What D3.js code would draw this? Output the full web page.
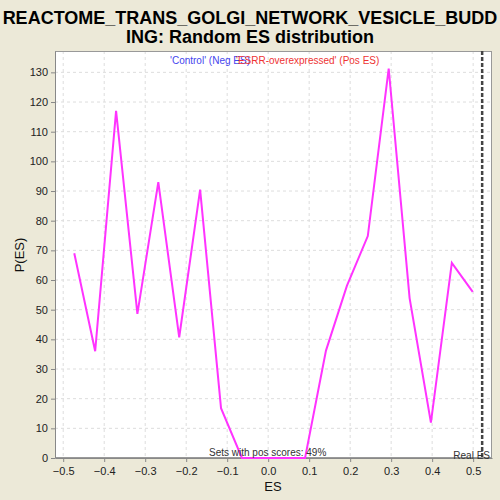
<!DOCTYPE html>
<html><head><meta charset="utf-8">
<script src="https://cdn.jsdelivr.net/npm/d3@7"></script>
<style>body{margin:0;background:#ECE9D8;} svg{display:block;}</style>
</head><body>
<script>
const titleLines = ["REACTOME_TRANS_GOLGI_NETWORK_VESICLE_BUDD", "ING: Random ES distribution"];
const esValues = [-0.473, -0.422, -0.371, -0.319, -0.268, -0.217, -0.166, -0.115, -0.064, -0.013, 0.038, 0.090, 0.141, 0.192, 0.243, 0.294, 0.345, 0.397, 0.448, 0.499];
const pValues = [69, 36, 117, 48.6, 93, 40.7, 90.5, 16.8, 0, 0, 0, 0, 36.2, 58, 74.8, 131.3, 53.9, 11.9, 65.8, 56];
const xTicks = [-0.5, -0.4, -0.3, -0.2, -0.1, 0.0, 0.1, 0.2, 0.3, 0.4, 0.5];
const yTicks = [0, 10, 20, 30, 40, 50, 60, 70, 80, 90, 100, 110, 120, 130];
const realES = 0.522;
const legendNeg = "'Control' (Neg ES)";
const legendPos = "'ESRR-overexpressed' (Pos ES)";
const posText = "Sets with pos scores: 49%";

const W = 500, H = 500;
const m = {left: 55, right: 492, top: 51, bottom: 458};
const svg = d3.select("body").append("svg").attr("width", W).attr("height", H)
  .style("font-family", "'Liberation Sans', Arial, sans-serif");
svg.append("rect").attr("width", W).attr("height", H).attr("fill", "#ECE9D8");

const x = d3.scaleLinear().domain([-0.520, 0.546]).range([m.left, m.right]);
const y = d3.scaleLinear().domain([0, 137.2]).range([m.bottom, m.top]);

// title
svg.append("g").selectAll("text").data(titleLines).join("text")
  .attr("x", 250).attr("y", (d, i) => 24 + i * 18.5)
  .attr("text-anchor", "middle").attr("font-weight", "bold").attr("font-size", 18)
  .attr("fill", "#000").text(d => d);

// plot background
svg.append("rect").attr("x", m.left).attr("y", m.top)
  .attr("width", m.right - m.left).attr("height", m.bottom - m.top).attr("fill", "#fff");

// grid
const grid = svg.append("g").attr("stroke", "#ddd").attr("stroke-dasharray", "3,3").attr("stroke-width", 1);
grid.selectAll("line.v").data(xTicks).join("line").attr("class", "v")
  .attr("x1", d => x(d)).attr("x2", d => x(d)).attr("y1", m.top).attr("y2", m.bottom);
grid.selectAll("line.h").data(yTicks).join("line").attr("class", "h")
  .attr("y1", d => y(d)).attr("y2", d => y(d)).attr("x1", m.left).attr("x2", m.right);

// border
svg.append("rect").attr("x", m.left + 0.5).attr("y", m.top + 0.5)
  .attr("width", m.right - m.left - 1).attr("height", m.bottom - m.top - 1)
  .attr("fill", "none").attr("stroke", "#999");

// axes
const xAxis = svg.append("g").attr("transform", `translate(0,${m.bottom})`)
  .call(d3.axisBottom(x).tickValues(xTicks).tickFormat(d3.format(".1f")).tickSize(4).tickSizeOuter(0));
const yAxis = svg.append("g").attr("transform", `translate(${m.left},0)`)
  .call(d3.axisLeft(y).tickValues(yTicks).tickFormat(d3.format("d")).tickSize(4).tickSizeOuter(0));
[xAxis, yAxis].forEach(a => {
  a.select(".domain").attr("stroke", "#888");
  a.selectAll(".tick line").attr("stroke", "#888");
  a.selectAll(".tick text").attr("font-size", 11).attr("fill", "#222")
    .style("font-family", "'Liberation Sans', Arial, sans-serif");
});
xAxis.selectAll(".tick text").attr("dy", "0.9em");

svg.append("text").attr("x", 273).attr("y", 491).attr("text-anchor", "middle")
  .attr("font-size", 13).attr("fill", "#111").text("ES");
svg.append("text").attr("transform", "translate(24,255) rotate(-90)").attr("text-anchor", "middle")
  .attr("font-size", 13).attr("fill", "#111").text("P(ES)");

// real ES line
svg.append("line").attr("x1", x(realES)).attr("x2", x(realES)).attr("y1", m.top).attr("y2", m.bottom)
  .attr("stroke", "#444").attr("stroke-width", 2.5).attr("stroke-dasharray", "4,2");

// data line
const data = esValues.map((d, i) => [d, pValues[i]]);
svg.append("path").datum(data)
  .attr("d", d3.line().x(d => x(d[0])).y(d => y(d[1])))
  .attr("fill", "none").attr("stroke", "#FF33FF").attr("stroke-width", 2);

// legend
svg.append("text").attr("x", 170).attr("y", 64).attr("font-size", 10).attr("fill", "#4444ee").text(legendNeg);
svg.append("text").attr("x", 236).attr("y", 64).attr("font-size", 10).attr("fill", "#ee3333").text(legendPos);

svg.append("text").attr("x", 209).attr("y", 456).attr("font-size", 10).attr("fill", "#333").text(posText);
svg.append("text").attr("x", 490).attr("y", 459).attr("text-anchor", "end").attr("font-size", 10).attr("fill", "#333").text("Real ES");
</script>
</body></html>
